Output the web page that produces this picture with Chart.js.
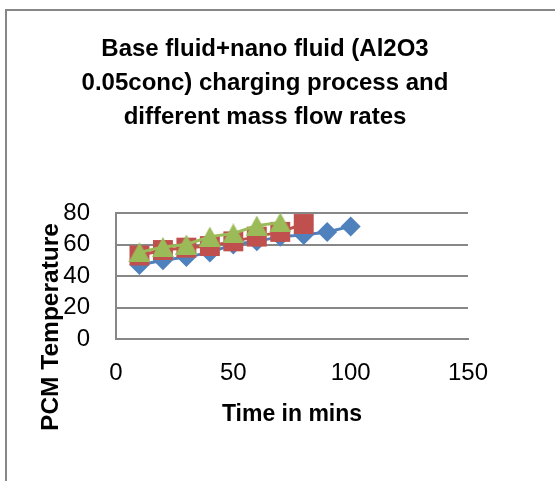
<!DOCTYPE html>
<html>
<head>
<meta charset="utf-8">
<script src="https://cdn.jsdelivr.net/npm/chart.js@4/dist/chart.umd.min.js"></script>
<style>
  html, body { margin: 0; padding: 0; background: #ffffff; overflow: hidden; }
  #frame { position: absolute; left: 5px; top: 9px; width: 600px; height: 520px;
           border-left: 2px solid #878787; border-top: 2px solid #878787; }
  #wrap { position: absolute; left: 0; top: 0; width: 555px; height: 481px; }
</style>
</head>
<body>
<div id="frame"></div>
<div id="wrap"><canvas id="c" width="555" height="481"></canvas></div>
<script>
// ---- data ----
const timeMins   = [10, 20, 30, 40, 50, 60, 70, 80, 90, 100];
const seriesBlue = [47, 50, 52, 55, 60, 62, 65, 66, 68, 71.5];
const seriesRed  = [53, 56.5, 58, 59, 62, 65, 68, 73];
const seriesGreen= [55, 58.4, 60, 65, 67, 72, 74];
const titleLines = ['Base fluid+nano fluid (Al2O3', '0.05conc) charging process and', 'different mass flow rates'];
const xTitle = 'Time in mins';
const yTitle = 'PCM Temperature';

const toPts = (ys) => ys.map((y, i) => ({ x: timeMins[i], y: y }));

// triangle marker centred on its bounding box (as the spreadsheet draws it)
function makeTriangle(color) {
  const c = document.createElement('canvas');
  c.width = 22; c.height = 20;
  const g = c.getContext('2d');
  g.fillStyle = color;
  g.beginPath();
  g.moveTo(11, 0); g.lineTo(22, 20); g.lineTo(0, 20); g.closePath();
  g.fill();
  return c;
}

const FONT = "'Liberation Sans', Arial, sans-serif";
const GRID = '#878787';

const yTitlePlugin = {
  id: 'yTitlePlugin',
  afterDraw(chart) {
    const ctx = chart.ctx;
    ctx.save();
    ctx.translate(51, 327);
    ctx.rotate(-Math.PI / 2);
    ctx.font = "bold 24.5px " + FONT;
    ctx.fillStyle = '#000';
    ctx.textAlign = 'center';
    ctx.textBaseline = 'middle';
    ctx.fillText(yTitle, 0, 0);
    ctx.restore();
  }
};

new Chart(document.getElementById('c'), {
  type: 'line',
  data: {
    datasets: [
      { data: toPts(seriesBlue), borderColor: '#4F81BD', backgroundColor: '#4F81BD',
        borderWidth: 3, pointStyle: 'rectRot', pointRadius: 10, pointBorderWidth: 0,
        pointBackgroundColor: '#4F81BD', order: 3, tension: 0 },
      { data: toPts(seriesRed), borderColor: '#C0504D', backgroundColor: '#C0504D',
        borderWidth: 3, pointStyle: 'rect', pointRadius: 14.1, pointBorderWidth: 0,
        pointBackgroundColor: '#C0504D', order: 2, tension: 0 },
      { data: toPts(seriesGreen), borderColor: '#9BBB59', backgroundColor: '#9BBB59',
        borderWidth: 3, pointStyle: makeTriangle('#9BBB59'), pointRadius: 11, pointBorderWidth: 0,
        order: 1, tension: 0 }
    ]
  },
  options: {
    responsive: false,
    animation: false,
    devicePixelRatio: 1,
    layout: { padding: { left: 62, right: 87, top: 0, bottom: 0 } },
    plugins: {
      legend: { display: false },
      tooltip: { enabled: false },
      title: {
        display: true,
        text: titleLines,
        color: '#000',
        font: { family: FONT, size: 24, weight: 'bold', lineHeight: 34 / 24 },
        padding: { top: 32, bottom: 79 }
      }
    },
    scales: {
      x: {
        type: 'linear', min: 0, max: 150,
        afterFit(s) { s.height = 142; },
        ticks: { stepSize: 50, autoSkip: false, color: '#000', padding: 20, font: { family: FONT, size: 24 } },
        grid: { display: false, drawTicks: false },
        border: { display: true, color: GRID, width: 2 },
        title: { display: true, text: xTitle, color: '#000',
                 font: { family: FONT, size: 23, weight: 'bold' },
                 padding: { top: 0, bottom: 53 } }
      },
      y: {
        min: 0, max: 80,
        afterFit(s) { s.width = 54; },
        ticks: { stepSize: 20, autoSkip: false, color: '#000', padding: 26, font: { family: FONT, size: 24 } },
        grid: { color: GRID, lineWidth: 2, drawTicks: false },
        border: { display: true, color: GRID, width: 2 }
      }
    }
  },
  plugins: [yTitlePlugin]
});
</script>
</body>
</html>
